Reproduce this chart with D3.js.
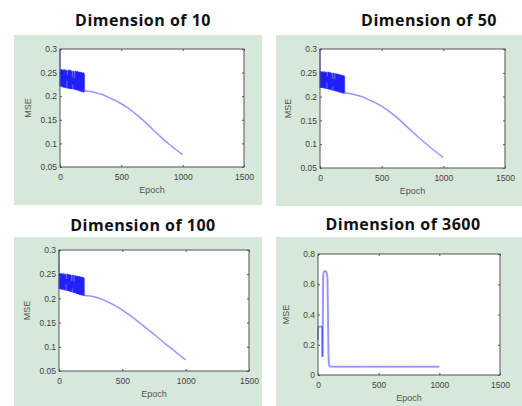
<!DOCTYPE html>
<html>
<head>
<meta charset="utf-8">
<script src="https://cdn.jsdelivr.net/npm/d3@7"></script>
<style>
  body { margin: 0; background: #fff; }
  .tick text { font-family: "Liberation Sans", Arial, sans-serif; font-size: 8.5px; fill: #444; }
  .tick line { stroke: #555; }
  .domain { display: none; }
</style>
</head>
<body>
<div id="chart"></div>
<script>
var titles = ["Dimension of 10", "Dimension of 50", "Dimension of 100", "Dimension of 3600"];
var xTicks = [0, 500, 1000, 1500];
var yTicksSmall = [0.05, 0.1, 0.15, 0.2, 0.25, 0.3];
var yTicksLarge = [0, 0.2, 0.4, 0.6, 0.8];

// [epoch, mse]
var mse10 = [
  [0,0.300],[2,0.221],[5,0.257],[8,0.220],[11,0.256],[14,0.221],[17,0.257],[20,0.219],[23,0.255],[26,0.220],
  [29,0.256],[32,0.218],[35,0.257],[38,0.219],[41,0.254],[44,0.218],[47,0.256],[50,0.217],[53,0.255],[56,0.232],
  [59,0.244],[62,0.217],[65,0.256],[68,0.216],[71,0.255],[74,0.217],[77,0.254],[80,0.216],[83,0.256],[86,0.215],
  [89,0.255],[92,0.216],[95,0.253],[98,0.215],[101,0.240],[104,0.225],[107,0.254],[110,0.214],[113,0.252],[116,0.215],
  [119,0.238],[122,0.214],[125,0.254],[128,0.213],[131,0.253],[134,0.214],[137,0.252],[140,0.212],[143,0.253],[146,0.213],
  [149,0.252],[152,0.211],[155,0.251],[158,0.212],[161,0.252],[164,0.210],[167,0.250],[170,0.211],[173,0.251],[176,0.209],
  [179,0.250],[182,0.210],[185,0.249],[188,0.209],[191,0.250],[194,0.208],[197,0.248],[200,0.211],
  [250,0.210],[300,0.207],[350,0.203],[400,0.197],[450,0.191],[500,0.184],[550,0.176],[600,0.166],[650,0.155],
  [700,0.144],[750,0.131],[800,0.119],[850,0.107],[900,0.096],[950,0.086],[1000,0.076]
];
var mse50 = [
  [0,0.300],[2,0.219],[5,0.253],[8,0.218],[11,0.252],[14,0.219],[17,0.253],[20,0.218],[23,0.251],[26,0.219],
  [29,0.252],[32,0.217],[35,0.253],[38,0.218],[41,0.250],[44,0.217],[47,0.252],[50,0.216],[53,0.251],[56,0.230],
  [59,0.242],[62,0.216],[65,0.252],[68,0.215],[71,0.251],[74,0.216],[77,0.250],[80,0.215],[83,0.251],[86,0.214],
  [89,0.250],[92,0.215],[95,0.249],[98,0.213],[101,0.237],[104,0.222],[107,0.250],[110,0.212],[113,0.249],[116,0.213],
  [119,0.236],[122,0.212],[125,0.249],[128,0.211],[131,0.248],[134,0.212],[137,0.247],[140,0.210],[143,0.248],[146,0.211],
  [149,0.247],[152,0.209],[155,0.246],[158,0.210],[161,0.247],[164,0.208],[167,0.245],[170,0.209],[173,0.246],[176,0.207],
  [179,0.245],[182,0.208],[185,0.244],[188,0.207],[191,0.245],[194,0.206],[197,0.243],[200,0.208],
  [250,0.206],[300,0.203],[350,0.199],[400,0.193],[450,0.187],[500,0.180],[550,0.171],[600,0.161],[650,0.150],
  [700,0.138],[750,0.126],[800,0.114],[850,0.103],[900,0.092],[950,0.082],[1000,0.072]
];
var mse100 = [
  [0,0.300],[2,0.220],[5,0.252],[8,0.219],[11,0.251],[14,0.220],[17,0.252],[20,0.218],[23,0.251],[26,0.219],
  [29,0.250],[32,0.218],[35,0.252],[38,0.219],[41,0.249],[44,0.217],[47,0.251],[50,0.217],[53,0.250],[56,0.229],
  [59,0.240],[62,0.216],[65,0.251],[68,0.216],[71,0.250],[74,0.215],[77,0.249],[80,0.215],[83,0.250],[86,0.214],
  [89,0.249],[92,0.214],[95,0.248],[98,0.213],[101,0.236],[104,0.221],[107,0.249],[110,0.212],[113,0.248],[116,0.212],
  [119,0.235],[122,0.211],[125,0.248],[128,0.211],[131,0.247],[134,0.210],[137,0.246],[140,0.210],[143,0.247],[146,0.209],
  [149,0.246],[152,0.209],[155,0.245],[158,0.208],[161,0.246],[164,0.207],[167,0.244],[170,0.208],[173,0.245],[176,0.206],
  [179,0.244],[182,0.207],[185,0.243],[188,0.206],[191,0.244],[194,0.205],[197,0.242],[200,0.206],
  [250,0.205],[300,0.202],[350,0.197],[400,0.191],[450,0.184],[500,0.176],[550,0.167],[600,0.157],[650,0.147],
  [700,0.136],[750,0.126],[800,0.115],[850,0.104],[900,0.094],[950,0.083],[1000,0.073]
];
var mse3600 = [
  [0,0.23],[2,0.32],[10,0.32],[20,0.32],[34,0.32],[37,0.12],[40,0.40],[43,0.67],[50,0.685],[60,0.688],
  [68,0.684],[74,0.665],[78,0.64],[82,0.40],[86,0.15],[90,0.07],[95,0.057],[110,0.055],[200,0.055],
  [400,0.055],[600,0.055],[800,0.055],[1000,0.055]
];

var panels = [
  { title: titles[0], data: mse10,   yTicks: yTicksSmall, yDomain: [0.05, 0.3], bg: [14, 35, 262, 205],  plot: [60, 49, 244, 167],  tx: 143, ty: 26 },
  { title: titles[1], data: mse50,   yTicks: yTicksSmall, yDomain: [0.05, 0.3], bg: [276, 35, 522, 206], plot: [320, 49, 505, 168], tx: 429, ty: 26 },
  { title: titles[2], data: mse100,  yTicks: yTicksSmall, yDomain: [0.05, 0.3], bg: [14, 237, 262, 406], plot: [59, 250, 249, 371], tx: 143, ty: 231 },
  { title: titles[3], data: mse3600, yTicks: yTicksLarge, yDomain: [0, 0.8],    bg: [276, 237, 522, 406],plot: [318, 254, 500, 375],tx: 403, ty: 230 }
];

var svg = d3.select("#chart").append("svg")
  .attr("width", 522)
  .attr("height", 406);

panels.forEach(function(p, i) {
  svg.append("rect")
    .attr("x", p.bg[0]).attr("y", p.bg[1])
    .attr("width", p.bg[2] - p.bg[0]).attr("height", p.bg[3] - p.bg[1])
    .attr("fill", "#d5e8d9");

  svg.append("text")
    .attr("x", p.tx).attr("y", p.ty)
    .attr("text-anchor", "middle")
    .style("font-family", "'Open Sans', sans-serif")
    .style("font-weight", "bold")
    .style("font-size", "16px")
    .style("letter-spacing", "0.5px")
    .style("fill", "#111")
    .text(p.title);

  var l = p.plot[0], t = p.plot[1], r = p.plot[2], b = p.plot[3];

  var x = d3.scaleLinear().domain([0, 1500]).range([l, r]);
  var y = d3.scaleLinear().domain(p.yDomain).range([b, t]);

  svg.append("rect")
    .attr("x", l).attr("y", t)
    .attr("width", r - l).attr("height", b - t)
    .attr("fill", "#fff");

  // matlab style: ticks pointing inward on all four sides
  svg.append("g")
    .attr("transform", "translate(0," + b + ")")
    .call(d3.axisBottom(x).tickValues(xTicks).tickSize(-2).tickPadding(7).tickFormat(d3.format("d")));
  svg.append("g")
    .attr("transform", "translate(0," + t + ")")
    .call(d3.axisTop(x).tickValues(xTicks).tickSize(-2).tickFormat(""));
  svg.append("g")
    .attr("transform", "translate(" + l + ",0)")
    .call(d3.axisLeft(y).tickValues(p.yTicks).tickSize(-2).tickPadding(3).tickFormat(function(d) { return String(+d.toFixed(2)); }));
  svg.append("g")
    .attr("transform", "translate(" + r + ",0)")
    .call(d3.axisRight(y).tickValues(p.yTicks).tickSize(-2).tickFormat(""));

  // each step drawn on its own so the dense oscillations stack up darker
  svg.append("g")
    .selectAll("line")
    .data(d3.pairs(p.data))
    .enter()
    .append("line")
    .attr("x1", function(d) { return x(d[0][0]); })
    .attr("y1", function(d) { return y(d[0][1]); })
    .attr("x2", function(d) { return x(d[1][0]); })
    .attr("y2", function(d) { return y(d[1][1]); })
    .attr("stroke", "#0000ff")
    .attr("stroke-opacity", 0.42)
    .attr("stroke-width", i == 3 ? 1.9 : 1.5)
    .attr("stroke-linecap", "butt");

  svg.append("rect")
    .attr("x", l).attr("y", t)
    .attr("width", r - l).attr("height", b - t)
    .attr("fill", "none")
    .attr("stroke", "#555")
    .attr("stroke-width", 1);

  svg.append("text")
    .attr("x", (l + r) / 2).attr("y", b + 26)
    .attr("text-anchor", "middle")
    .style("font-family", "'Liberation Sans', Arial, sans-serif")
    .style("font-size", "9px")
    .style("fill", "#555")
    .text("Epoch");

  svg.append("text")
    .attr("transform", "translate(" + (l - 29) + "," + ((t + b) / 2) + ") rotate(-90)")
    .attr("text-anchor", "middle")
    .style("font-family", "'Liberation Sans', Arial, sans-serif")
    .style("font-size", "9px")
    .style("fill", "#555")
    .text("MSE");
});
</script>
</body>
</html>
